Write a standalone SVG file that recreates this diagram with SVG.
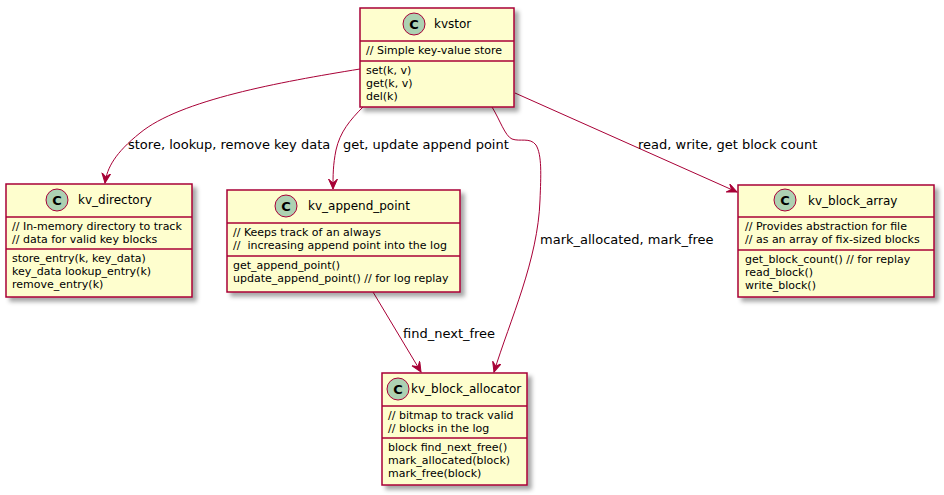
<svg xmlns="http://www.w3.org/2000/svg" width="944" height="495" viewBox="0 0 944 495">
<style>
  .box { fill: #FEFECE; stroke: #A80036; stroke-width: 1.5; filter: url(#shadow); }
  .sep { stroke: #A80036; stroke-width: 1.5; }
  .circ { fill: #ADD1B2; stroke: #A80036; stroke-width: 1; }
  .cl { font-family: "DejaVu Sans", "Liberation Sans", sans-serif; font-size: 13px; font-weight: bold; fill: #000; text-anchor: middle; }
  .name { font-family: "DejaVu Sans", "Liberation Sans", sans-serif; font-size: 12px; fill: #000; }
  .attr { font-family: "DejaVu Sans", "Liberation Sans", sans-serif; font-size: 11px; fill: #000; }
  .lbl { font-family: "DejaVu Sans", "Liberation Sans", sans-serif; font-size: 13px; fill: #000; }
  .edge { fill: none; stroke: #A80036; stroke-width: 1; marker-end: url(#arrow); }
</style>
<defs>
  <filter id="shadow" x="-10%" y="-10%" width="130%" height="130%">
    <feGaussianBlur in="SourceAlpha" stdDeviation="2"/>
    <feOffset dx="4" dy="4" result="b"/>
    <feFlood flood-color="#000" flood-opacity="0.35"/>
    <feComposite in2="b" operator="in"/>
    <feMerge><feMergeNode/><feMergeNode in="SourceGraphic"/></feMerge>
  </filter>
  <marker id="arrow" markerUnits="userSpaceOnUse" markerWidth="12" markerHeight="10" refX="10" refY="4.5" orient="auto">
    <path d="M0,0 L10,4.5 L0,9 L4,4.5 Z" fill="#A80036" stroke="#A80036" stroke-width="1"/>
  </marker>
</defs>

<g id="connectors">
  <path class="edge" d="M360,69 C280,82 180,100 140,133 C115,153 107,168 105,183"/>
  <path class="edge" d="M363,107 C350,120 340,132 336,150 C333,165 333,175 333,189"/>
  <path class="edge" d="M492,107 C500,120 505,136 512,139 C520,142 530,137 536,145 C542,155 541,175 540,200 C538,260 510,320 494,372"/>
  <path class="edge" d="M515,93 L737,192"/>
  <path class="edge" d="M373,292 L421,372"/>
  <text class="lbl" x="128" y="149">store, lookup, remove key data</text>
  <text class="lbl" x="343" y="149">get, update append point</text>
  <text class="lbl" x="540" y="244">mark_allocated, mark_free</text>
  <text class="lbl" x="638" y="149">read, write, get block count</text>
  <text class="lbl" x="403" y="338">find_next_free</text>
</g>

<g id="kvstor">
  <rect class="box" x="360" y="8" width="154" height="99"/>
  <line class="sep" x1="360" y1="41" x2="514" y2="41"/>
  <line class="sep" x1="360" y1="61" x2="514" y2="61"/>
  <circle class="circ" cx="414" cy="24" r="11"/>
  <text class="cl" x="414" y="28.5">C</text>
  <text class="name" x="434" y="28">kvstor</text>
  <text class="attr" x="366" y="54">// Simple key-value store</text>
  <text class="attr" x="366" y="74">set(k, v)</text>
  <text class="attr" x="366" y="87">get(k, v)</text>
  <text class="attr" x="366" y="100">del(k)</text>
</g>

<g id="kv_directory">
  <rect class="box" x="6" y="184" width="186" height="113"/>
  <line class="sep" x1="6" y1="217" x2="192" y2="217"/>
  <line class="sep" x1="6" y1="249" x2="192" y2="249"/>
  <circle class="circ" cx="57" cy="200" r="11"/>
  <text class="cl" x="57" y="204.5">C</text>
  <text class="name" x="78" y="204">kv_directory</text>
  <text class="attr" x="12" y="230">// In-memory directory to track</text>
  <text class="attr" x="12" y="243">// data for valid key blocks</text>
  <text class="attr" x="12" y="262">store_entry(k, key_data)</text>
  <text class="attr" x="12" y="275">key_data lookup_entry(k)</text>
  <text class="attr" x="12" y="288">remove_entry(k)</text>
</g>

<g id="kv_append_point">
  <rect class="box" x="227" y="190" width="233" height="102"/>
  <line class="sep" x1="227" y1="223" x2="460" y2="223"/>
  <line class="sep" x1="227" y1="256" x2="460" y2="256"/>
  <circle class="circ" cx="286" cy="206" r="11"/>
  <text class="cl" x="286" y="210.5">C</text>
  <text class="name" x="308" y="210">kv_append_point</text>
  <text class="attr" x="233" y="236">// Keeps track of an always</text>
  <text class="attr" x="233" y="249" xml:space="preserve">//  increasing append point into the log</text>
  <text class="attr" x="233" y="269">get_append_point()</text>
  <text class="attr" x="233" y="282">update_append_point() // for log replay</text>
</g>

<g id="kv_block_array">
  <rect class="box" x="738" y="185" width="196" height="112"/>
  <line class="sep" x1="738" y1="217" x2="934" y2="217"/>
  <line class="sep" x1="738" y1="250" x2="934" y2="250"/>
  <circle class="circ" cx="785" cy="200" r="11"/>
  <text class="cl" x="785" y="204.5">C</text>
  <text class="name" x="808" y="205">kv_block_array</text>
  <text class="attr" x="745" y="230">// Provides abstraction for file</text>
  <text class="attr" x="745" y="243">// as an array of fix-sized blocks</text>
  <text class="attr" x="745" y="263">get_block_count() // for replay</text>
  <text class="attr" x="745" y="276">read_block()</text>
  <text class="attr" x="745" y="289">write_block()</text>
</g>

<g id="kv_block_allocator">
  <rect class="box" x="382" y="373" width="145" height="112"/>
  <line class="sep" x1="382" y1="406" x2="527" y2="406"/>
  <line class="sep" x1="382" y1="438" x2="527" y2="438"/>
  <circle class="circ" cx="398" cy="389" r="11"/>
  <text class="cl" x="398" y="393.5">C</text>
  <text class="name" x="411" y="393">kv_block_allocator</text>
  <text class="attr" x="388" y="419">// bitmap to track valid</text>
  <text class="attr" x="388" y="432">// blocks in the log</text>
  <text class="attr" x="388" y="451">block find_next_free()</text>
  <text class="attr" x="388" y="464">mark_allocated(block)</text>
  <text class="attr" x="388" y="477">mark_free(block)</text>
</g>
</svg>
